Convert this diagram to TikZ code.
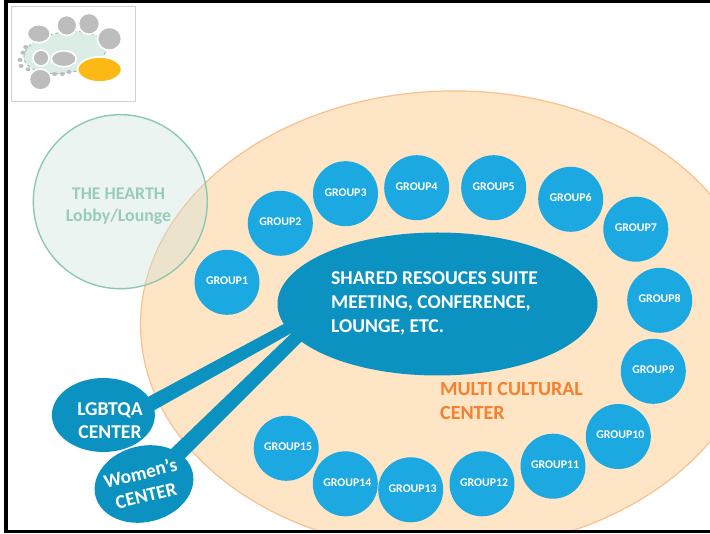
\documentclass[tikz,border=0pt]{standalone}
\usepackage{fontspec}
\setmainfont{Carlito}
\usetikzlibrary{shapes.geometric}
\definecolor{hubblue}{HTML}{0C92C0}
\definecolor{groupblue}{HTML}{1CA8E0}
\definecolor{peach}{HTML}{FDE5C5}
\definecolor{peachline}{HTML}{F8C190}
\definecolor{hearthfill}{HTML}{CBE2DA}
\definecolor{hearthline}{HTML}{8CC9B3}
\definecolor{hearthtext}{HTML}{97CCB9}
\definecolor{mcc}{HTML}{F5802E}
\definecolor{thumbgray}{HTML}{BDBDBD}
\definecolor{thumbgreen}{HTML}{DCEDE6}
\definecolor{thumbamber}{HTML}{FDB913}
\newcommand{\gl}[1]{\raisebox{3pt}{#1}}
\newcommand{\glw}[1]{\raisebox{3pt}{\kern4pt #1}}
\tikzset{
  grp/.style={circle,fill=groupblue,inner sep=0pt,minimum size=65pt,text=white,font=\fontsize{11.8}{12}\selectfont\bfseries},
  hubnode/.style={ellipse,fill=hubblue,inner sep=0pt,text=white},
  bigtext/.style={text=white,inner sep=0pt,font=\fontsize{19.6}{24}\selectfont\bfseries},
  wedge/.style={fill=hubblue},
  thumbdisc/.style={ellipse,fill=thumbgray,draw=white,line width=1.6pt,inner sep=0pt},
  thumbdot/.style={ellipse,fill=thumbgray,inner sep=0pt,minimum width=5pt,minimum height=4pt}
}
\begin{document}
\begin{tikzpicture}[x=1pt,y=-1pt]
\useasboundingbox (0,0) rectangle (710,534);
\fill[white] (0,0) rectangle (710,534);
\begin{scope}
\clip (6,3) rectangle (710,531);
\node[ellipse,fill=peach,draw=peachline,line width=1.2pt,minimum width=618pt,minimum height=460pt,inner sep=0pt,rotate=1.5] (mcc) at (449.5,321) {};
\node[circle,draw=hearthline,line width=1.4pt,fill=hearthfill,fill opacity=.35,minimum size=174pt,inner sep=0pt] (hearth) at (120.3,201.7) {};
\node[text=hearthtext,inner sep=0pt,font=\fontsize{17.8}{22.5}\selectfont\bfseries,align=center] (hearthlabel) at (118.5,206) {THE HEARTH\\Lobby/Lounge};
\node[hubnode,minimum width=320pt,minimum height=143pt] (hub) at (437.5,304) {};
\node[anchor=west,bigtext,align=left] (hublabel) at (331,303.5) {SHARED RESOUCES SUITE\\MEETING, CONFERENCE,\\LOUNGE, ETC.};
\node[hubnode,minimum width=103pt,minimum height=74pt] (lgbtqa) at (103.4,415) {};
\node[bigtext,align=center,font=\fontsize{19.6}{23}\selectfont\bfseries] (lgbtqalabel) at (110,420.5) {LGBTQA\\CENTER};
\node[hubnode,minimum width=100pt,minimum height=76pt,rotate=14] (women) at (144,484) {};
\node[bigtext,rotate=14,align=center,font=\fontsize{19.3}{23}\selectfont\bfseries] (womenlabel) at (143.2,484) {Women’s\\CENTER};
\coordinate (l1) at (146,398);
\coordinate (l2) at (153,411);
\coordinate (l3) at (308,311);
\coordinate (l4) at (320,317);
\coordinate (w1) at (170,450);
\coordinate (w2) at (184,459);
\coordinate (w3) at (300,325);
\coordinate (w4) at (320,323);
\fill[wedge] (l1) -- (l3) -- (l4) -- (l2) -- cycle;
\fill[wedge] (w1) -- (w3) -- (w4) -- (w2) -- cycle;
\node[grp] (g1) at (227,282.3) {\gl{GROUP1}};
\node[grp] (g2) at (280.3,223.3) {\gl{GROUP2}};
\node[grp] (g3) at (345.5,193.7) {\gl{GROUP3}};
\node[grp] (g4) at (416.7,187.7) {\gl{GROUP4}};
\node[grp] (g5) at (493.7,187.7) {\gl{GROUP5}};
\node[grp] (g6) at (570.7,199.3) {\gl{GROUP6}};
\node[grp] (g7) at (635.8,229.2) {\gl{GROUP7}};
\node[grp] (g8) at (659.7,300.3) {\gl{GROUP8}};
\node[grp] (g9) at (653.3,371.3) {\gl{GROUP9}};
\node[grp] (g10) at (618.3,436.5) {\glw{GROUP10}};
\node[grp] (g11) at (553,466.2) {\glw{GROUP11}};
\node[grp] (g12) at (482,483.8) {\glw{GROUP12}};
\node[grp] (g13) at (410.7,489.8) {\glw{GROUP13}};
\node[grp] (g14) at (345.3,483.8) {\glw{GROUP14}};
\node[grp] (g15) at (286.2,448.3) {\glw{GROUP15}};
\node[anchor=west,inner sep=0pt,text=mcc,font=\fontsize{20}{24}\selectfont\bfseries,align=left] (mcclabel) at (440,401.5) {MULTI CULTURAL\\CENTER};
% thumbnail
\node[draw=black!18,line width=1pt,fill=white,minimum width=124pt,minimum height=95pt,inner sep=0pt] (thumb) at (73.5,54.2) {};
\node[ellipse,fill=thumbgreen,draw=hearthline,dashed,line width=1pt,minimum width=83pt,minimum height=41pt,inner sep=0pt,rotate=8] (thearth) at (65,52.5) {};
\node[thumbdisc,minimum width=23pt,minimum height=18pt] (t1) at (38.8,33.7) {};
\node[thumbdisc,minimum width=20pt,minimum height=20pt] (t2) at (66.8,25.5) {};
\node[thumbdisc,minimum width=21pt,minimum height=21pt] (t3) at (89,23.8) {};
\node[thumbdisc,minimum width=24pt,minimum height=23pt] (t4) at (109.5,38.8) {};
\node[thumbdisc,minimum width=16pt,minimum height=16pt] (t5) at (41,58) {};
\node[thumbdisc,minimum width=25pt,minimum height=16pt] (t6) at (63.8,58.8) {};
\node[thumbdisc,minimum width=22pt,minimum height=21pt] (t7) at (40.3,79.5) {};
\node[ellipse,fill=thumbamber,draw=white,line width=1.6pt,minimum width=44pt,minimum height=25pt,inner sep=0pt] (t8) at (99.6,69.5) {};
\foreach \n/\x/\y in {d1/25.7/47,d2/23/52.7,d3/20/60,d4/21/66,d5/28/69.3,d6/54.7/74,d7/62.3/74,d8/69/72}
  \node[thumbdot] (\n) at (\x,\y) {};
\end{scope}
% frame
\fill[black] (4,0) rectangle (710,3.5);
\fill[black] (4,0) rectangle (7.5,533);
\fill[black] (4,530.5) rectangle (710,533);
\end{tikzpicture}
\end{document}
